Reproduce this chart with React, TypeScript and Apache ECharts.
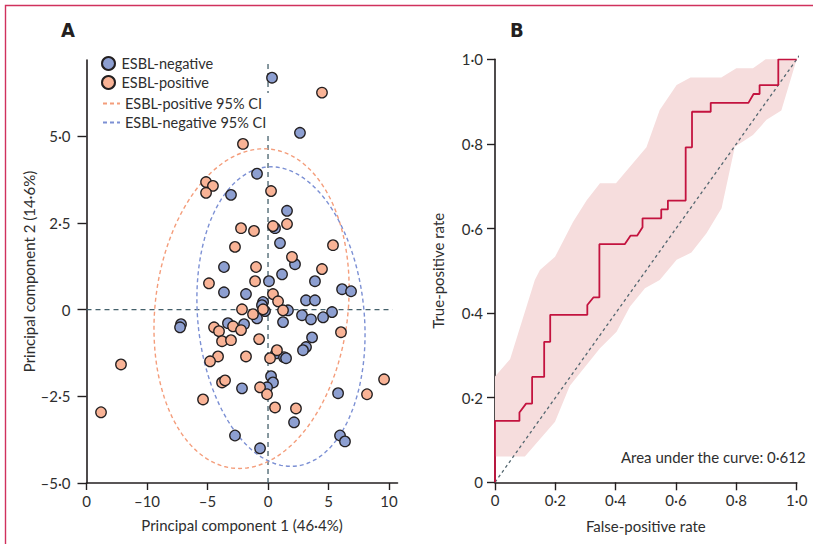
import React, { useEffect, useRef } from 'react';
import * as echarts from 'echarts';

const FONT = 'Lato, "Noto Sans", sans-serif';

// Panel A: PCA scores [PC1, PC2]
const negativePoints: [number, number][] = [
  [0.33, 6.69], [2.64, 5.1], [-0.91, 3.92], [-3.06, 3.31], [1.57, 2.85], [0.58, 2.35],
  [0.99, 1.92], [2.23, 1.31], [-3.64, 1.23], [0.08, 0.82], [1.16, 1.02], [3.88, 0.82],
  [-1.82, 0.45], [-3.64, 0.5], [6.12, 0.59], [6.86, 0.53], [3.14, 0.27], [3.88, 0.27],
  [-0.41, 0.22], [-0.5, 0.13], [-0.25, -0.04], [1.65, -0.02], [5.29, -0.07], [2.81, -0.16],
  [3.55, -0.28], [4.55, -0.22], [-0.91, -0.25], [-1.98, -0.42], [-3.31, -0.39], [1.24, -0.36],
  [-7.19, -0.42], [-7.27, -0.51], [3.64, -0.8], [3.14, -1.08], [2.89, -1.17], [0.66, -1.26],
  [1.32, -1.37], [1.49, -1.4], [0.25, -1.92], [0.41, -2.1], [-0.08, -2.24], [-2.15, -2.27],
  [5.79, -2.41], [2.15, -3.25], [-2.73, -3.63], [5.95, -3.63], [6.36, -3.8], [-0.66, -4.0],
];

const positivePoints: [number, number][] = [
  [4.46, 6.26], [-2.07, 4.78], [-5.12, 3.68], [-4.55, 3.57], [-5.12, 3.37], [0.25, 3.42],
  [1.57, 2.47], [0.41, 2.41], [-2.23, 2.35], [-1.16, 2.27], [-2.73, 1.81], [5.37, 1.86],
  [1.98, 1.52], [-0.99, 1.23], [4.46, 1.17], [-4.88, 0.76], [-1.07, 0.82], [0.41, 0.45],
  [0.83, 0.24], [-2.15, 0.01], [-0.41, 0.01], [1.24, -0.02], [-1.24, -0.13], [-2.89, -0.48],
  [-4.46, -0.51], [-4.05, -0.62], [-2.23, -0.59], [-3.8, -0.91], [-3.06, -0.88], [-0.74, -0.85],
  [6.03, -0.65], [-1.82, -1.35], [0.74, -1.17], [0.17, -1.4], [-4.13, -1.35], [-4.79, -1.49],
  [-12.15, -1.58], [-3.8, -2.1], [-3.55, -2.04], [-0.66, -2.24], [-0.08, -2.44], [9.59, -2.01],
  [8.18, -2.44], [0.58, -2.82], [2.31, -2.85], [-5.37, -2.59], [-13.8, -2.96],
];

// 95% CI ellipses: centre, semi-axes, shear of x with y
const positiveEllipse = { cx: -1.36, cy: 0.03, rx: 8.0, ry: 4.61, shear: 0.22 };
const negativeEllipse = { cx: 1.07, cy: -0.2, rx: 6.9, ry: 4.32, shear: -0.19 };

const pc1Ticks = [-15, -10, -5, 0, 5, 10];
const pc1TickLabels = ['0', '–10', '–5', '0', '5', '10'];
const pc2Ticks = [-5, -2.5, 0, 2.5, 5];
const pc2TickLabels = ['–5·0', '–2·5', '0', '2·5', '5·0'];

// Panel B: ROC curve [FPR, TPR]
const rocCurve: [number, number][] = [
  [0, 0], [0, 0.145], [0.081, 0.145], [0.081, 0.165], [0.103, 0.186], [0.123, 0.186],
  [0.123, 0.249], [0.163, 0.249], [0.163, 0.332], [0.183, 0.332], [0.183, 0.396], [0.306, 0.396],
  [0.306, 0.419], [0.326, 0.437], [0.346, 0.437], [0.346, 0.563], [0.43, 0.563], [0.449, 0.583],
  [0.471, 0.583], [0.489, 0.603], [0.489, 0.624], [0.551, 0.624], [0.551, 0.645], [0.573, 0.645],
  [0.573, 0.666], [0.632, 0.666], [0.632, 0.792], [0.653, 0.792], [0.653, 0.876], [0.715, 0.876],
  [0.715, 0.897], [0.84, 0.897], [0.857, 0.918], [0.877, 0.918], [0.877, 0.939], [0.939, 0.939],
  [0.939, 1.0], [1.0, 1.0],
];
const ciUpper: [number, number][] = [
  [0, 0.25], [0.05, 0.291], [0.132, 0.478], [0.149, 0.502], [0.199, 0.533], [0.259, 0.616],
  [0.304, 0.667], [0.348, 0.707], [0.401, 0.707], [0.502, 0.792], [0.546, 0.88], [0.602, 0.939],
  [0.648, 0.957], [0.75, 0.957], [0.8, 0.979], [0.855, 0.979], [0.897, 1.0], [1.0, 1.0],
];
const ciLower: [number, number][] = [
  [0, 0.061], [0.099, 0.061], [0.199, 0.143], [0.248, 0.228], [0.348, 0.317], [0.403, 0.356],
  [0.447, 0.415], [0.497, 0.459], [0.546, 0.478], [0.602, 0.526], [0.651, 0.543], [0.701, 0.589],
  [0.751, 0.648], [0.795, 0.793], [0.855, 0.821], [0.9, 0.857], [0.949, 0.879], [1.0, 1.0],
];
const chanceLine: [number, number][] = [[0, 0], [1.03, 1.03]];
const rateTicks = [0, 0.2, 0.4, 0.6, 0.8, 1];
const rateTickLabels = ['0', '0·2', '0·4', '0·6', '0·8', '1·0'];
const aucText = 'Area under the curve: 0·612';

function ellipsePoints(e: { cx: number; cy: number; rx: number; ry: number; shear: number }) {
  const pts: [number, number][] = [];
  const n = 160;
  for (let i = 0; i <= n; i++) {
    const t = (i / n) * Math.PI * 2;
    pts.push([e.cx + e.rx * Math.cos(t) + e.shear * e.ry * Math.sin(t), e.cy + e.ry * Math.sin(t)]);
  }
  return pts;
}

const INK = '#231f20';
const TXT = '#2e2e2e';
const BLUE = '#8d9fd1';
const ORANGE = '#f9b396';

function labelFmt(ticks: number[], labels: string[]) {
  return (v: number) => {
    const i = ticks.findIndex((t) => Math.abs(t - v) < 1e-6);
    return i >= 0 ? labels[i] : '';
  };
}

export default function App() {
  const ref = useRef<HTMLDivElement>(null);
  useEffect(() => {
    if (!ref.current) return;
    const chart = echarts.init(ref.current, undefined, { renderer: 'svg' });
    const axisCommon = {
      splitLine: { show: false },
      axisLine: { show: true, onZero: false, lineStyle: { color: INK, width: 1.6 } },
      nameTextStyle: { color: TXT, fontSize: 15, fontFamily: FONT },
    };
    chart.setOption({
      animation: false,
      textStyle: { fontFamily: FONT },
      grid: [
        { left: 86.5, top: 60, width: 311, height: 423 },
        { left: 495, top: 59.3, width: 301.7, height: 423 },
      ],
      xAxis: [
        {
          ...axisCommon, type: 'value', gridIndex: 0, min: -15, max: 10.7,
          name: 'Principal component 1 (46·4%)', nameLocation: 'middle', nameGap: 34,
          axisTick: { show: true, length: 7, customValues: pc1Ticks, lineStyle: { color: INK, width: 1.4 } },
          axisLabel: { customValues: pc1Ticks, formatter: labelFmt(pc1Ticks, pc1TickLabels), color: TXT, fontSize: 15, fontFamily: FONT, margin: 10 },
        },
        {
          ...axisCommon, type: 'value', gridIndex: 1, min: 0, max: 1,
          name: 'False-positive rate', nameLocation: 'middle', nameGap: 36,
          axisTick: { show: true, length: 8, customValues: rateTicks, lineStyle: { color: INK, width: 1.4 } },
          axisLabel: { customValues: rateTicks, formatter: labelFmt(rateTicks, rateTickLabels), color: TXT, fontSize: 15, fontFamily: FONT, margin: 10 },
        },
      ],
      yAxis: [
        {
          ...axisCommon, type: 'value', gridIndex: 0, min: -5, max: 7.2,
          name: 'Principal component 2 (14·6%)', nameLocation: 'middle', nameGap: 49,
          axisTick: { show: true, length: 9, customValues: pc2Ticks, lineStyle: { color: INK, width: 1.4 } },
          axisLabel: { customValues: pc2Ticks, formatter: labelFmt(pc2Ticks, pc2TickLabels), color: TXT, fontSize: 15, fontFamily: FONT, margin: 16 },
        },
        {
          ...axisCommon, type: 'value', gridIndex: 1, min: 0, max: 1,
          name: 'True-positive rate', nameLocation: 'middle', nameGap: 50,
          axisTick: { show: true, length: 8, customValues: rateTicks, lineStyle: { color: INK, width: 1.4 } },
          axisLabel: { customValues: rateTicks, formatter: labelFmt(rateTicks, rateTickLabels), color: TXT, fontSize: 15, fontFamily: FONT, margin: 12 },
        },
      ],
      legend: [
        {
          data: ['ESBL-negative', 'ESBL-positive'], orient: 'vertical', left: 101, top: 56,
          padding: 0, itemWidth: 16, itemHeight: 13, itemGap: 4,
          textStyle: { color: TXT, fontSize: 14.5, fontFamily: FONT },
        },
        {
          data: ['ESBL-positive 95% CI', 'ESBL-negative 95% CI'], orient: 'vertical', left: 100, top: 93,
          padding: [3, 3, 3, 2], itemWidth: 17, itemHeight: 10, itemGap: 4, backgroundColor: '#ffffff',
          itemStyle: { opacity: 0 },
          textStyle: { color: TXT, fontSize: 14.5, fontFamily: FONT },
        },
      ],
      series: [
        {
          type: 'line', xAxisIndex: 0, yAxisIndex: 0, data: [[-15, 0], [10.3, 0]], symbol: 'none', silent: true, z: 1,
          lineStyle: { color: '#44606b', width: 1.3, type: [5, 4] },
        },
        {
          type: 'line', xAxisIndex: 0, yAxisIndex: 0, data: [[0, -5], [0, 7.2]], symbol: 'none', silent: true, z: 1,
          lineStyle: { color: '#44606b', width: 1.3, type: [5, 4] },
        },
        {
          name: 'ESBL-positive 95% CI', type: 'line', xAxisIndex: 0, yAxisIndex: 0, data: ellipsePoints(positiveEllipse),
          symbol: 'none', showSymbol: false, z: 2, color: '#f49d7b',
          lineStyle: { color: '#f49d7b', width: 1.4, type: [4, 3] },
        },
        {
          name: 'ESBL-negative 95% CI', type: 'line', xAxisIndex: 0, yAxisIndex: 0, data: ellipsePoints(negativeEllipse),
          symbol: 'none', showSymbol: false, z: 2, color: '#7c90d4',
          lineStyle: { color: '#7c90d4', width: 1.4, type: [4, 3] },
        },
        {
          name: 'ESBL-negative', type: 'scatter', xAxisIndex: 0, yAxisIndex: 0, data: negativePoints, symbolSize: 10.5, z: 3,
          itemStyle: { color: BLUE, borderColor: INK, borderWidth: 1.3, opacity: 1 },
        },
        {
          name: 'ESBL-positive', type: 'scatter', xAxisIndex: 0, yAxisIndex: 0, data: positivePoints, symbolSize: 10.5, z: 3,
          itemStyle: { color: ORANGE, borderColor: INK, borderWidth: 1.3, opacity: 1 },
        },
        {
          type: 'custom', xAxisIndex: 1, yAxisIndex: 1, data: [[0, 0]], silent: true, z: 1,
          renderItem: (_p: any, api: any) => {
            const pts = [...ciUpper.map((p) => api.coord(p)), ...ciLower.slice().reverse().map((p) => api.coord(p))];
            return { type: 'polygon', shape: { points: pts }, style: { fill: '#f6dddd' } };
          },
        },
        {
          type: 'line', xAxisIndex: 1, yAxisIndex: 1, data: chanceLine, symbol: 'none', clip: false, silent: true, z: 2,
          lineStyle: { color: '#53666f', width: 1.3, type: [3, 3] },
        },
        {
          type: 'line', xAxisIndex: 1, yAxisIndex: 1, data: rocCurve, symbol: 'none', silent: true, z: 3,
          lineStyle: { color: '#c3133f', width: 1.8 },
        },
      ],
      graphic: [
        { type: 'rect', shape: { x: 5.5, y: 5.5, width: 900, height: 700 }, style: { fill: 'none', stroke: '#d0315d', lineWidth: 1.4 }, silent: true },
        { type: 'text', left: 61, top: 20, style: { text: 'A', fontSize: 20, fontWeight: 'bold', fontFamily: '"Liberation Sans Narrow", "DejaVu Sans Condensed", sans-serif', fill: INK } },
        { type: 'text', left: 510, top: 20, style: { text: 'B', fontSize: 20, fontWeight: 'bold', fontFamily: '"Liberation Sans Narrow", "DejaVu Sans Condensed", sans-serif', fill: INK } },
        { type: 'text', right: 7, top: 449, style: { text: aucText, fontSize: 15, fontFamily: FONT, fill: TXT } },
      ],
    });
    return () => chart.dispose();
  }, []);
  return <div ref={ref} style={{ position: 'fixed', left: 0, top: 0, width: 813, height: 544, background: '#fff' }} />;
}
